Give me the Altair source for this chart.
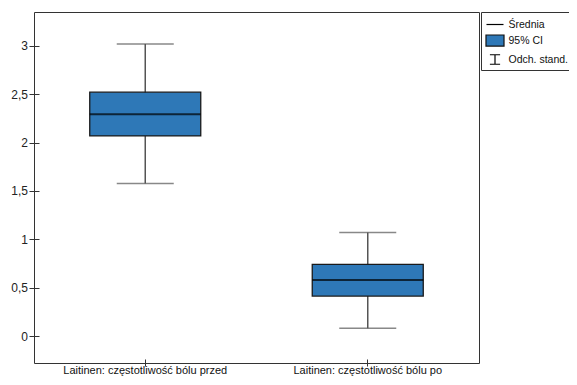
import altair as alt
import pandas as pd

categories = ["Laitinen: częstotliwość bólu przed", "Laitinen: częstotliwość bólu po"]
mean = [2.293, 0.581]
ci_lo = [2.068, 0.416]
ci_hi = [2.520, 0.742]
sd_lo = [1.577, 0.084]
sd_hi = [3.017, 1.072]

legend_labels = ["Średnia", "95% CI", "Odch. stand."]
legend_shapes = [
    "M-1,0L1,0",
    "M-1.06,-0.65L1.06,-0.65L1.06,0.65L-1.06,0.65Z",
    "M-0.6,-0.56L0.6,-0.56M0,-0.56L0,0.56M-0.6,0.56L0.6,0.56",
]
legend_fills = ["transparent", "#2e78b7", "transparent"]
legend_strokes = ["#000", "#111", "#000"]
y_ticks = [0, 0.5, 1, 1.5, 2, 2.5, 3]

df = pd.DataFrame({
    "cat": categories, "mean": mean, "ci_lo": ci_lo, "ci_hi": ci_hi,
    "sd_lo": sd_lo, "sd_hi": sd_hi,
})

x = alt.X("cat:N", sort=categories, title=None,
          scale=alt.Scale(paddingInner=0, paddingOuter=0),
          axis=alt.Axis(labelAngle=0, domain=False, tickSize=7, offset=-4,
                        labelPadding=-1.5, labelFontSize=11, labelColor="#111",
                        tickColor="#333", tickWidth=1))
yscale = alt.Scale(domain=[-0.275, 3.347], nice=False, zero=False)
yaxis = alt.Axis(values=y_ticks, format="~g",
                 labelExpr="replace(datum.label, '.', ',')",
                 domain=False, grid=False, tickSize=10, offset=-5,
                 labelPadding=1.5, labelFontSize=12, labelColor="#222",
                 tickColor="#333", tickWidth=1)

base = alt.Chart(df)

whisker = base.mark_rule(color="#555", strokeWidth=1.5).encode(
    x=x, y=alt.Y("sd_lo:Q", scale=yscale, axis=yaxis, title=None), y2="sd_hi:Q")
cap_lo = base.mark_tick(color="#555", thickness=1.5, size=57, orient="horizontal").encode(
    x=x, y=alt.Y("sd_lo:Q", scale=yscale))
cap_hi = base.mark_tick(color="#555", thickness=1.5, size=57, orient="horizontal").encode(
    x=x, y=alt.Y("sd_hi:Q", scale=yscale))
box = base.mark_bar(size=111, color="#2e78b7", stroke="#1a1a1a", strokeWidth=1.3).encode(
    x=x, y=alt.Y("ci_lo:Q", scale=yscale), y2="ci_hi:Q")
med = base.mark_tick(color="#000", thickness=2, size=111, orient="horizontal").encode(
    x=x, y=alt.Y("mean:Q", scale=yscale))

leg = alt.Legend(orient="none", legendX=447, legendY=0, title=None, padding=3,
                 symbolOffset=1.5, labelOffset=4, strokeColor="#333",
                 labelFontSize=10.5, labelColor="#111", symbolSize=289,
                 symbolStrokeWidth=1.2, rowPadding=1)
legend_layer = alt.Chart(alt.Data(values=[{"item": l, "v": None} for l in legend_labels])).mark_point(
    filled=False, opacity=1, strokeWidth=1.2, size=289).encode(
    y=alt.Y("v:Q", scale=yscale),
    shape=alt.Shape("item:N", scale=alt.Scale(domain=legend_labels, range=legend_shapes), legend=leg),
    fill=alt.Fill("item:N", scale=alt.Scale(domain=legend_labels, range=legend_fills), legend=leg),
    stroke=alt.Stroke("item:N", scale=alt.Scale(domain=legend_labels, range=legend_strokes), legend=leg),
)

chart = alt.layer(whisker, cap_lo, cap_hi, box, med, legend_layer).properties(
    width=445, height=351,
    autosize=alt.AutoSizeParams(type="none"),
    padding={"left": 26, "top": 4, "right": 90, "bottom": 14},
).configure(font="Liberation Sans").configure_view(stroke="#333", strokeWidth=1)

chart.save("out.html", embed_options={"renderer": "svg", "actions": False})
